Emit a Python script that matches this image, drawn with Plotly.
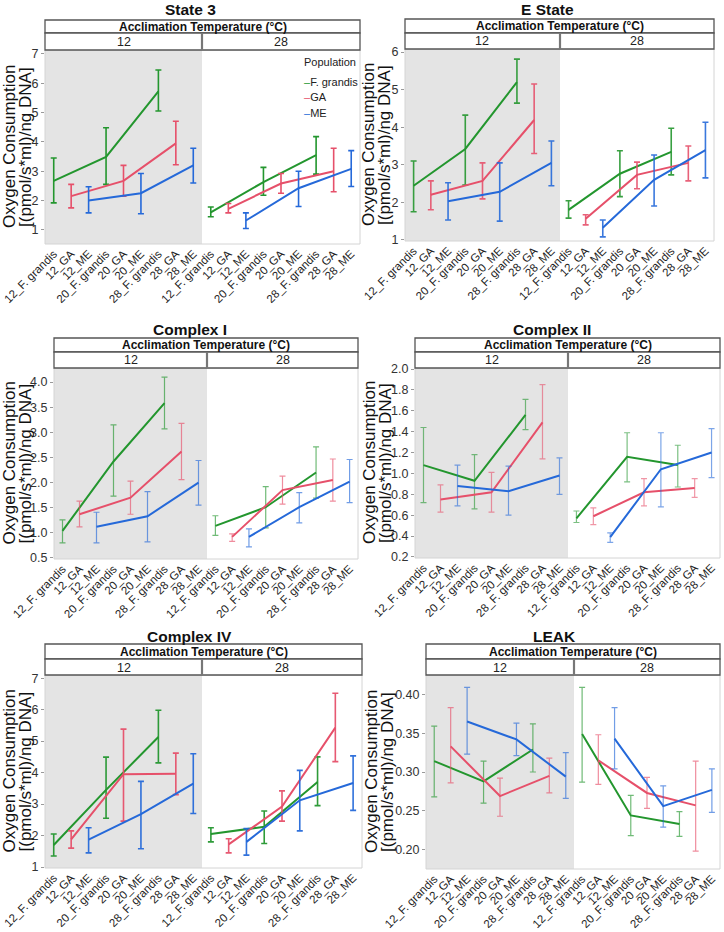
import plotly.graph_objects as go

W, H = 724, 932

categories = ["12_F. grandis", "12_GA", "12_ME", "20_F. grandis", "20_GA", "20_ME",
              "28_F. grandis", "28_GA", "28_ME"]
populations = ["F. grandis", "GA", "ME"]
test_temps = [12, 20, 28]
acclimation = ["12", "28"]
panel_titles = ["State 3", "E State", "Complex I", "Complex II", "Complex IV", "LEAK"]

# each row: population; values: [acc12: t12, t20, t28, acc28: t12, t20, t28]
state3_mean = [[2.67, 3.49, 5.72, 1.60, 2.63, 3.55], [2.15, 2.67, 3.95, 1.72, 2.58, 3.00], [2.00, 2.25, 3.20, 1.32, 2.42, 3.08]]
state3_hi = [[3.45, 4.48, 6.45, 1.78, 3.13, 4.18], [2.55, 3.20, 4.70, 1.90, 2.92, 3.78], [2.47, 2.92, 3.78, 1.58, 3.00, 3.70]]
state3_lo = [[1.92, 2.55, 5.05, 1.45, 2.18, 2.90], [1.75, 2.15, 3.22, 1.58, 2.25, 2.30], [1.58, 1.55, 2.60, 1.05, 1.80, 2.48]]

estate_mean = [[2.44, 3.42, 5.20, 1.80, 2.76, 3.34], [2.20, 2.57, 4.19, 1.56, 2.73, 3.05], [2.03, 2.28, 3.05, 1.32, 2.60, 3.39]]
estate_hi = [[3.10, 4.32, 5.81, 2.04, 3.37, 3.97], [2.57, 3.05, 5.15, 1.67, 3.07, 3.50], [2.52, 3.05, 3.63, 1.53, 3.26, 4.13]]
estate_lo = [[1.75, 2.46, 4.64, 1.58, 2.15, 2.73], [1.80, 2.09, 3.30, 1.40, 2.36, 2.57], [1.53, 1.50, 2.44, 1.08, 1.90, 2.65]]

c1_mean = [[1.04, 2.42, 3.58, 1.14, 1.51, 2.20], [1.37, 1.70, 2.62, 0.92, 1.85, 2.05], [1.12, 1.33, 2.00, 0.92, 1.51, 2.02]]
c1_hi = [[1.26, 3.15, 4.10, 1.34, 1.92, 2.71], [1.63, 2.03, 3.18, 0.98, 2.13, 2.47], [1.41, 1.82, 2.44, 1.08, 1.80, 2.46]]
c1_lo = [[0.80, 1.73, 3.07, 0.95, 1.10, 1.69], [1.12, 1.37, 2.06, 0.83, 1.57, 1.63], [0.80, 0.82, 1.55, 0.72, 1.20, 1.60]]

c2_mean = [[1.08, 0.93, 1.56, 0.57, 1.16, 1.08], [0.75, 0.82, 1.49, 0.59, 0.82, 0.86], [0.88, 0.83, 0.98, 0.39, 1.04, 1.20]]
c2_hi = [[1.44, 1.18, 1.71, 0.64, 1.39, 1.27], [0.89, 1.01, 1.85, 0.67, 0.95, 0.95], [1.08, 1.07, 1.15, 0.43, 1.39, 1.43]]
c2_lo = [[0.72, 0.66, 1.42, 0.53, 0.92, 0.87], [0.63, 0.63, 1.14, 0.51, 0.69, 0.77], [0.69, 0.60, 0.80, 0.34, 0.68, 0.96]]

c4_mean = [[1.70, 3.45, 5.13, 2.05, 2.28, 3.70], [1.88, 3.95, 3.96, 1.72, 2.92, 5.43], [1.87, 2.68, 3.65, 1.80, 3.12, 3.67]]
c4_hi = [[2.05, 4.49, 5.98, 2.25, 2.78, 4.50], [2.15, 5.38, 4.62, 1.90, 3.42, 6.52], [2.25, 3.72, 4.60, 2.22, 4.07, 4.53]]
c4_lo = [[1.35, 2.55, 4.31, 1.80, 1.75, 2.95], [1.60, 2.46, 3.30, 1.45, 2.46, 4.35], [1.45, 1.58, 2.70, 1.38, 2.15, 2.80]]

leak_mean = [[0.314, 0.288, 0.329, 0.349, 0.244, 0.233], [0.333, 0.269, 0.295, 0.315, 0.273, 0.257], [0.365, 0.342, 0.294, 0.343, 0.256, 0.277]]
leak_hi = [[0.359, 0.314, 0.362, 0.409, 0.270, 0.249], [0.383, 0.292, 0.318, 0.348, 0.293, 0.314], [0.409, 0.363, 0.325, 0.383, 0.282, 0.304]]
leak_lo = [[0.268, 0.260, 0.300, 0.287, 0.218, 0.217], [0.286, 0.243, 0.273, 0.284, 0.253, 0.198], [0.323, 0.321, 0.266, 0.304, 0.229, 0.248]]

data_sets = [(state3_mean, state3_hi, state3_lo), (estate_mean, estate_hi, estate_lo),
             (c1_mean, c1_hi, c1_lo), (c2_mean, c2_hi, c2_lo),
             (c4_mean, c4_hi, c4_lo), (leak_mean, leak_hi, leak_lo)]

line_colors = ["#23962e", "#e6506a", "#2569d9"]
err_alpha = [1.0, 0.9, 0.65, 0.6, 0.95, 0.65]

# geometry (pixels)
geo = [
    dict(x0=45, xm=202, x1=360, st=20, sm=33, sb=50, pb=244, yr=(0.52, 7.13), dt=1, fmt="d", tx=190, ty=10, ytx=17),
    dict(x0=405, xm=560, x1=714, st=19, sm=33, sb=49, pb=241, yr=(0.97, 6.08), dt=1, fmt="d", tx=547, ty=10, ytx=377),
    dict(x0=54, xm=207, x1=358, st=338, sm=352, sb=368, pb=559, yr=(0.48, 4.28), dt=0.5, fmt=".1f", tx=190, ty=329, ytx=17),
    dict(x0=415, xm=568, x1=720, st=338, sm=352, sb=368, pb=558, yr=(0.19, 2.01), dt=0.2, fmt=".1f", tx=552, ty=329, ytx=377),
    dict(x0=45, xm=202, x1=362, st=644, sm=659, sb=675, pb=868, yr=(0.97, 7.10), dt=1, fmt="d", tx=189, ty=636, ytx=17),
    dict(x0=426, xm=574, x1=720, st=644, sm=659, sb=675, pb=869, yr=(0.175, 0.425), dt=0.05, fmt=".2f", tx=554, ty=636, ytx=379),
]

FONT = "Liberation Sans, Arial, sans-serif"


def px(x):
    return x / W


def py(y):
    return 1 - y / H


def rgba(hexc, a):
    h = hexc.lstrip("#")
    r, g, b = int(h[0:2], 16), int(h[2:4], 16), int(h[4:6], 16)
    return f"rgba({r},{g},{b},{a})"


fig = go.Figure()
shapes = []
annotations = []
layout_axes = {}

n = 0
for pi, g in enumerate(geo):
    mean, hi, lo = data_sets[pi]
    for fi in range(2):
        n += 1
        xa = "x" if n == 1 else f"x{n}"
        ya = "y" if n == 1 else f"y{n}"
        xl = "xaxis" if n == 1 else f"xaxis{n}"
        yl = "yaxis" if n == 1 else f"yaxis{n}"
        left = g["x0"] if fi == 0 else g["xm"]
        right = g["xm"] if fi == 0 else g["x1"]
        layout_axes[xl] = dict(
            domain=[px(left), px(right)], anchor=ya, type="category",
            categoryorder="array", categoryarray=categories, range=[-0.5, 8.5],
            tickangle=-45, tickfont=dict(family=FONT, size=11.5, color="#222"),
            showgrid=False, zeroline=False, ticks="", showline=False, fixedrange=True,
            automargin=False,
        )
        layout_axes[yl] = dict(
            domain=[py(g["pb"]), py(g["sb"])], anchor=xa, range=list(g["yr"]),
            dtick=g["dt"], tick0=0, tickformat=g["fmt"], showgrid=False, zeroline=False,
            showticklabels=(fi == 0), ticks="outside" if fi == 0 else "", ticklen=3,
            tickcolor="#999", tickfont=dict(family=FONT, size=12.5, color="#333"),
            showline=False, fixedrange=True, automargin=False,
        )
        # background of facet
        if fi == 0:
            shapes.append(dict(type="rect", xref="paper", yref="paper", layer="below",
                               x0=px(left), x1=px(right), y0=py(g["pb"]), y1=py(g["sb"]),
                               fillcolor="#e4e4e4", line=dict(width=0)))
        for p, pop in enumerate(populations):
            xs = [f"{t}_{pop}" for t in test_temps]
            ys = mean[p][fi * 3:(fi + 1) * 3]
            up = [h - m for h, m in zip(hi[p][fi * 3:(fi + 1) * 3], ys)]
            dn = [m - l for m, l in zip(ys, lo[p][fi * 3:(fi + 1) * 3])]
            fig.add_trace(go.Scatter(
                x=xs, y=ys, xaxis=xa, yaxis=ya, mode="lines", showlegend=False,
                line=dict(color=line_colors[p], width=2),
                error_y=dict(type="data", symmetric=False, array=up, arrayminus=dn,
                             color=rgba(line_colors[p], err_alpha[pi]),
                             thickness=1.6 if err_alpha[pi] > 0.8 else 1.2, width=3),
                name=pop,
            ))
    # plot area frame
    shapes.append(dict(type="rect", xref="paper", yref="paper", layer="below",
                       x0=px(g["x0"]), x1=px(g["x1"]), y0=py(g["pb"]), y1=py(g["sb"]),
                       fillcolor="rgba(0,0,0,0)", line=dict(color="#d4d4d4", width=1)))
    # strips
    shapes.append(dict(type="rect", xref="paper", yref="paper",
                       x0=px(g["x0"]), x1=px(g["x1"]), y0=py(g["sm"]), y1=py(g["st"]),
                       fillcolor="white", line=dict(color="#555", width=1.3)))
    shapes.append(dict(type="rect", xref="paper", yref="paper",
                       x0=px(g["x0"]), x1=px(g["x1"]), y0=py(g["sb"]), y1=py(g["sm"]),
                       fillcolor="white", line=dict(color="#555", width=1.3)))
    shapes.append(dict(type="line", xref="paper", yref="paper",
                       x0=px(g["xm"]), x1=px(g["xm"]), y0=py(g["sb"]), y1=py(g["sm"]),
                       line=dict(color="#777", width=2.2)))
    annotations.append(dict(text="<b>Acclimation Temperature (°C)</b>", xref="paper", yref="paper",
                            x=px((g["x0"] + g["x1"]) / 2), y=py((g["st"] + g["sm"]) / 2),
                            showarrow=False, xanchor="center", yanchor="middle",
                            font=dict(family=FONT, size=12, color="#111")))
    for fi, lab in enumerate(acclimation):
        l = g["x0"] if fi == 0 else g["xm"]
        r = g["xm"] if fi == 0 else g["x1"]
        annotations.append(dict(text=lab, xref="paper", yref="paper",
                                x=px((l + r) / 2), y=py((g["sm"] + g["sb"]) / 2 + 0.5),
                                showarrow=False, xanchor="center", yanchor="middle",
                                font=dict(family=FONT, size=12.5, color="#222")))
    annotations.append(dict(text=f"<b>{panel_titles[pi]}</b>", xref="paper", yref="paper",
                            x=px(g["tx"]), y=py(g["ty"]), showarrow=False,
                            xanchor="center", yanchor="middle",
                            font=dict(family=FONT, size=15.5, color="#111")))
    yc = py((g["sb"] + g["pb"]) / 2)
    annotations.append(dict(text="Oxygen Consumption", xref="paper", yref="paper",
                            x=px(g["ytx"] - 8), y=yc, textangle=-90, showarrow=False,
                            xanchor="center", yanchor="middle",
                            font=dict(family=FONT, size=17, color="#111")))
    annotations.append(dict(text="[(pmol/s*ml)/ng DNA]", xref="paper", yref="paper",
                            x=px(g["ytx"] + 8), y=yc, textangle=-90, showarrow=False,
                            xanchor="center", yanchor="middle",
                            font=dict(family=FONT, size=17, color="#111")))

# legend (State 3, acclimation 28 facet)
annotations.append(dict(text="Population", xref="paper", yref="paper", x=px(302), y=py(62),
                        showarrow=False, xanchor="left", yanchor="middle",
                        font=dict(family=FONT, size=11, color="#222")))
for p, pop in enumerate(populations):
    annotations.append(dict(text=f'<span style="color:{line_colors[p]}">–</span>{pop}',
                            xref="paper", yref="paper", x=px(302), y=py(82 + p * 15.5),
                            showarrow=False, xanchor="left", yanchor="middle",
                            font=dict(family=FONT, size=11, color="#222")))

fig.update_layout(
    width=W, height=H, margin=dict(l=0, r=0, t=0, b=0, pad=0, autoexpand=False),
    paper_bgcolor="white", plot_bgcolor="rgba(0,0,0,0)",
    showlegend=False, shapes=shapes, annotations=annotations,
    font=dict(family=FONT), **layout_axes,
)

fig.write_html("out.html", config={"displayModeBar": False},
               post_script="document.body.style.margin='0px';document.body.style.overflow='hidden';")
